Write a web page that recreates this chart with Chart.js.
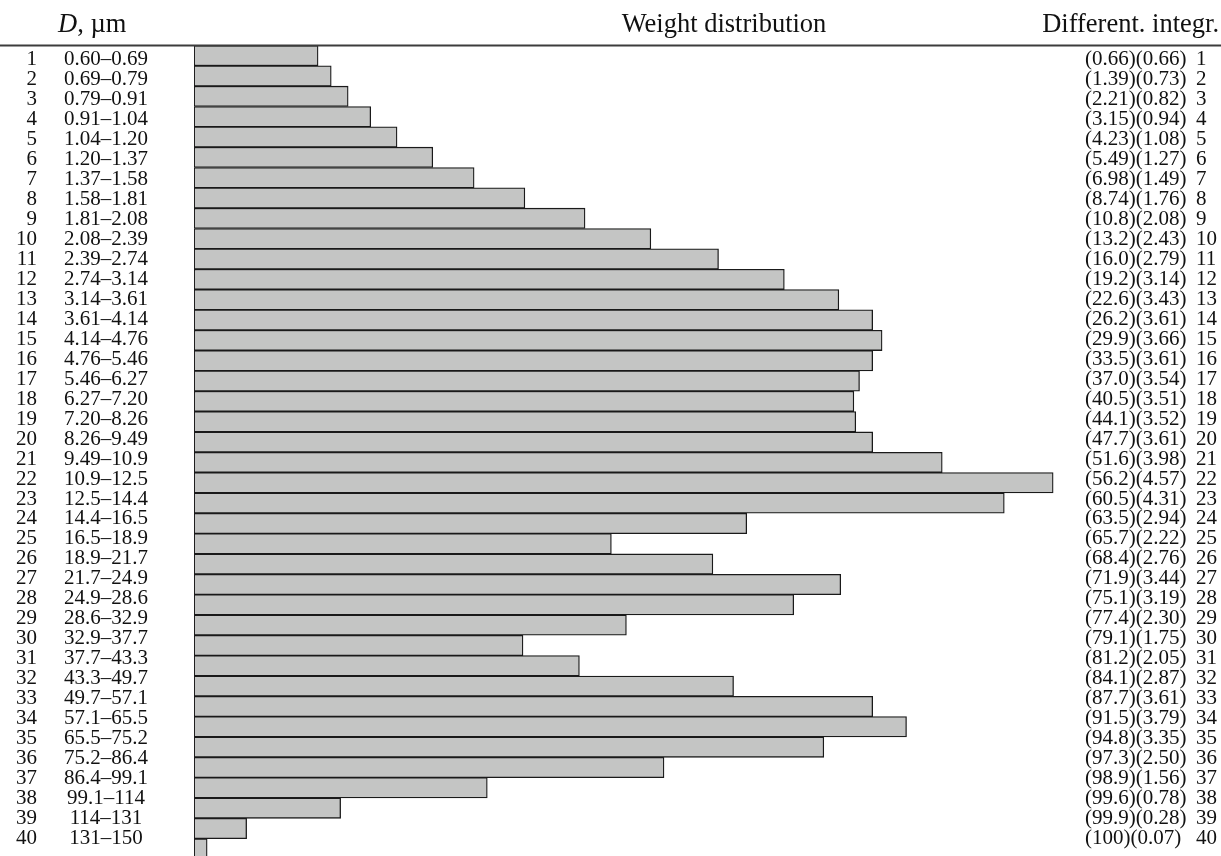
<!DOCTYPE html>
<html>
<head>
    <title>Weight distribution</title>
    <script src="https://cdn.jsdelivr.net/npm/chart.js"></script>
    <style type="text/css">
        html, body {
            margin: 0;
            padding: 0;
            background: #fff;
            overflow: hidden;
        }
        #wrap {
            width: 1221px;
            height: 872px;
        }
    </style>
</head>
<body>
    <div id="wrap"><canvas id="dist-chart"></canvas></div>

    <script type="text/javascript">
        // Size fractions, diameter ranges in micrometres
        const rowNumbers = Array.from({ length: 40 }, (_, i) => String(i + 1));
        const diameterRanges = [
            '0.60–0.69', '0.69–0.79', '0.79–0.91', '0.91–1.04', '1.04–1.20',
            '1.20–1.37', '1.37–1.58', '1.58–1.81', '1.81–2.08', '2.08–2.39',
            '2.39–2.74', '2.74–3.14', '3.14–3.61', '3.61–4.14', '4.14–4.76',
            '4.76–5.46', '5.46–6.27', '6.27–7.20', '7.20–8.26', '8.26–9.49',
            '9.49–10.9', '10.9–12.5', '12.5–14.4', '14.4–16.5', '16.5–18.9',
            '18.9–21.7', '21.7–24.9', '24.9–28.6', '28.6–32.9', '32.9–37.7',
            '37.7–43.3', '43.3–49.7', '49.7–57.1', '57.1–65.5', '65.5–75.2',
            '75.2–86.4', '86.4–99.1', '99.1–114', '114–131', '131–150'
        ];
        // differential weight fraction, % (bar length)
        const differential = [
            0.66, 0.73, 0.82, 0.94, 1.08, 1.27, 1.49, 1.76, 2.08, 2.43,
            2.79, 3.14, 3.43, 3.61, 3.66, 3.61, 3.54, 3.51, 3.52, 3.61,
            3.98, 4.57, 4.31, 2.94, 2.22, 2.76, 3.44, 3.19, 2.30, 1.75,
            2.05, 2.87, 3.61, 3.79, 3.35, 2.50, 1.56, 0.78, 0.28, 0.07
        ];
        // integral (cumulative) fraction, % as printed
        const integral = [
            '0.66', '1.39', '2.21', '3.15', '4.23', '5.49', '6.98', '8.74', '10.8', '13.2',
            '16.0', '19.2', '22.6', '26.2', '29.9', '33.5', '37.0', '40.5', '44.1', '47.7',
            '51.6', '56.2', '60.5', '63.5', '65.7', '68.4', '71.9', '75.1', '77.4', '79.1',
            '81.2', '84.1', '87.7', '91.5', '94.8', '97.3', '98.9', '99.6', '99.9', '100'
        ];
        const differentialText = differential.map(v => v.toFixed(2));

        const SERIF = '"Liberation Serif", "DejaVu Serif", serif';
        const ROW_FONT = '21px ' + SERIF;
        const HEAD_FONT = '26.5px ' + SERIF;
        const FIRST_ROW = 65.4;   // baseline of the first text row
        const ROW_PITCH = 19.96;

        // header line, column headers and the two text columns
        const tablePlugin = {
            id: 'tableText',
            afterDraw(chart) {
                const ctx = chart.ctx;
                const w = chart.width;
                ctx.save();

                ctx.strokeStyle = '#3c3c3c';
                ctx.lineWidth = 1.8;
                ctx.beginPath();
                ctx.moveTo(0, 45.5);
                ctx.lineTo(w, 45.5);
                ctx.stroke();

                ctx.fillStyle = '#111';
                ctx.textBaseline = 'alphabetic';
                ctx.font = 'italic ' + HEAD_FONT;
                ctx.textAlign = 'left';
                ctx.fillText('D', 58, 32);
                const dW = ctx.measureText('D').width;
                ctx.font = HEAD_FONT;
                ctx.fillText(', µm', 58 + dW, 32);
                ctx.textAlign = 'center';
                ctx.fillText('Weight distribution', 724, 32);
                ctx.textAlign = 'right';
                ctx.fillText('Different. integr.', 1219, 32);

                ctx.font = ROW_FONT;
                rowNumbers.forEach((n, i) => {
                    const y = FIRST_ROW + i * ROW_PITCH;
                    ctx.textAlign = 'right';
                    ctx.fillText(n, 37, y);
                    ctx.textAlign = 'center';
                    ctx.fillText(diameterRanges[i], 106, y);
                    ctx.textAlign = 'left';
                    ctx.fillText('(' + integral[i] + ')(' + differentialText[i] + ')', 1085, y);
                    ctx.fillText(n, 1196, y);
                });
                ctx.restore();
            }
        };

        const ctx = document.getElementById('dist-chart').getContext('2d');
        new Chart(ctx, {
            type: 'bar',
            data: {
                labels: rowNumbers,
                datasets: [{
                    label: 'Weight distribution',
                    data: differential,
                    backgroundColor: '#c4c5c4',
                    borderColor: '#1a1a1a',
                    borderWidth: 1.3,
                    borderSkipped: false,
                    barPercentage: 1.0,
                    categoryPercentage: 1.0
                }]
            },
            options: {
                indexAxis: 'y',
                responsive: true,
                maintainAspectRatio: false,
                animation: false,
                layout: {
                    padding: { left: 194, top: 45.5, right: 87, bottom: 13 }
                },
                plugins: {
                    legend: { display: false },
                    tooltip: { enabled: false }
                },
                scales: {
                    x: { display: false, min: 0, max: 5 },
                    y: { display: false, offset: true }
                }
            },
            plugins: [tablePlugin]
        });
    </script>
</body>
</html>
